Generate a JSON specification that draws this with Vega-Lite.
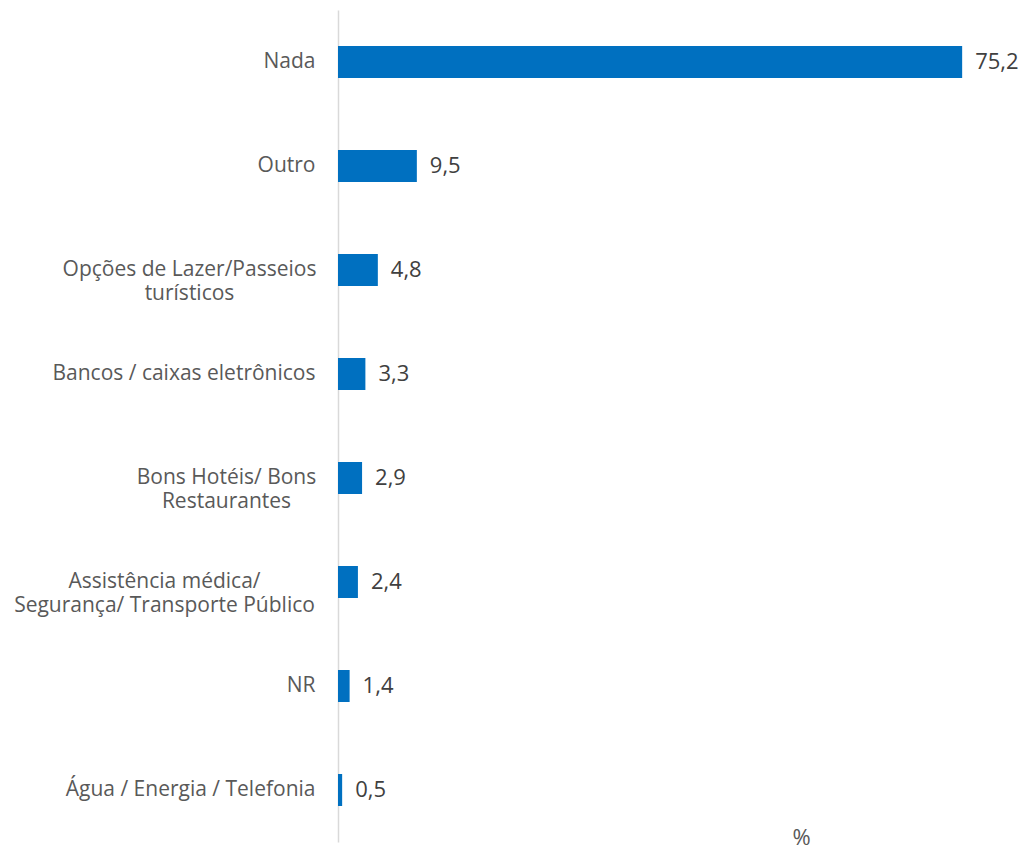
{
  "$schema": "https://vega.github.io/schema/vega-lite/v6.json",
  "autosize": "none",
  "padding": {"left": 338, "top": 10, "right": 22, "bottom": 8},
  "width": 664,
  "height": 832,
  "background": "white",
  "config": {
    "view": {"stroke": null},
    "font": "Open Sans",
    "locale": {"number": {"decimal": ",", "thousands": ".", "grouping": [3], "currency": ["R$", ""]}}
  },
  "data": {
    "values": [
      {"categoria": "Nada", "valor": 75.2},
      {"categoria": "Outro", "valor": 9.5},
      {"categoria": "Opções de Lazer/Passeios|turísticos", "valor": 4.8},
      {"categoria": "Bancos / caixas eletrônicos", "valor": 3.3},
      {"categoria": "Bons Hotéis/ Bons|Restaurantes", "valor": 2.9},
      {"categoria": "Assistência médica/|Segurança/ Transporte Público", "valor": 2.4},
      {"categoria": "NR", "valor": 1.4},
      {"categoria": "Água / Energia / Telefonia", "valor": 0.5}
    ]
  },
  "encoding": {
    "y": {
      "field": "categoria",
      "type": "nominal",
      "sort": null,
      "scale": {"paddingInner": 0.6923, "paddingOuter": 0.3462},
      "axis": {
        "title": null,
        "ticks": false,
        "grid": false,
        "domain": true,
        "domainColor": "#D9D9D9",
        "domainWidth": 1.5,
        "labelExpr": "split(datum.label, '|')",
        "labelFont": "Open Sans",
        "labelFontSize": 21,
        "labelColor": "#595959",
        "labelPadding": 23,
        "labelLimit": 400,
        "labelLineHeight": 24,
        "labelBaseline": "middle",
        "encoding": {
          "labels": {
            "align": {
              "condition": {"test": "indexof(datum.value, '|') >= 0", "value": "center"},
              "value": "right"
            },
            "dx": {
              "condition": [
                {"test": "datum.value === 'Opções de Lazer/Passeios|turísticos'", "value": -126},
                {"test": "datum.value === 'Bons Hotéis/ Bons|Restaurantes'", "value": -89},
                {"test": "datum.value === 'Assistência médica/|Segurança/ Transporte Público'", "value": -151}
              ],
              "value": 0
            }
          }
        }
      }
    },
    "x": {
      "field": "valor",
      "type": "quantitative",
      "scale": {"domain": [0, 80], "nice": false},
      "axis": {
        "title": "%",
        "labels": false,
        "ticks": false,
        "domain": false,
        "grid": false,
        "titleFont": "Open Sans",
        "titleFontSize": 22,
        "titleFontWeight": "normal",
        "titleColor": "#595959",
        "titleX": 463,
        "titleY": -5,
        "titleBaseline": "middle",
        "titleAlign": "center",
        "titleAnchor": null
      }
    }
  },
  "layer": [
    {"mark": {"type": "bar", "color": "#0070C0"}},
    {
      "mark": {"type": "text", "align": "left", "baseline": "middle", "dx": 13, "font": "Open Sans", "fontSize": 22, "color": "#404040"},
      "encoding": {"text": {"field": "valor", "type": "quantitative", "format": ".1f"}}
    }
  ]
}
